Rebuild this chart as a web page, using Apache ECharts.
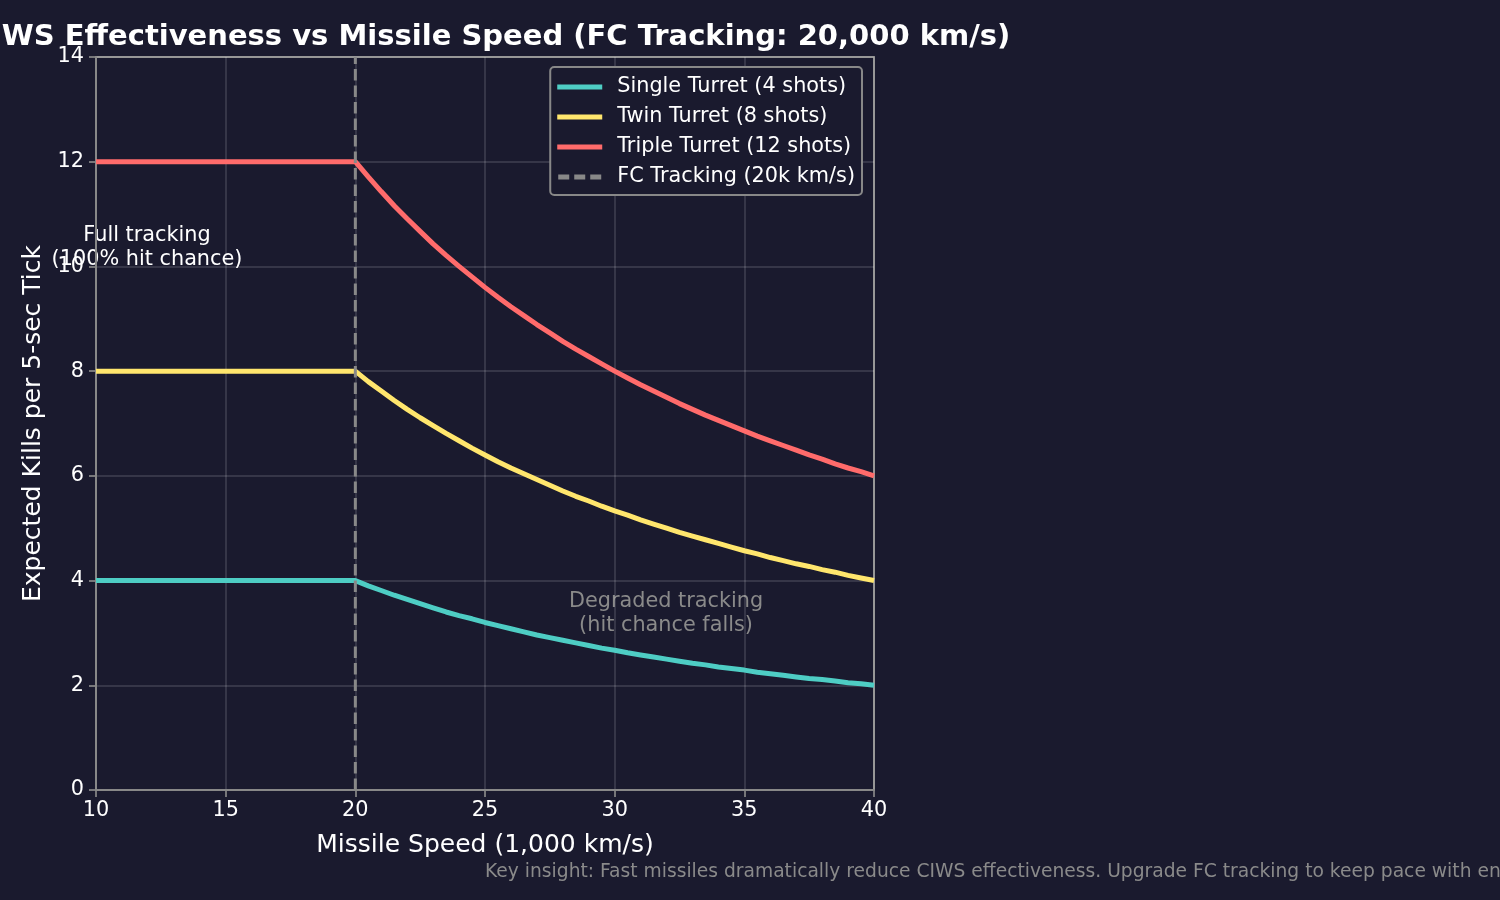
<!DOCTYPE html>
<html>
<head>
<meta charset="utf-8">
<script src="https://cdn.jsdelivr.net/npm/echarts@6/dist/echarts.min.js"></script>
<style>
  html, body { margin: 0; padding: 0; background: #1a1a2e; }
  #main { width: 1500px; height: 900px; }
</style>
</head>
<body>
<div id="main"></div>
<script>
// missile speed, 1,000 km/s
var speeds = [10, 11, 12, 13, 14, 15, 16, 17, 18, 19, 20,
              20.5, 21, 21.5, 22, 22.5, 23, 23.5, 24, 24.5, 25,
              25.5, 26, 26.5, 27, 27.5, 28, 28.5, 29, 29.5, 30,
              30.5, 31, 31.5, 32, 32.5, 33, 33.5, 34, 34.5, 35,
              35.5, 36, 36.5, 37, 37.5, 38, 38.5, 39, 39.5, 40];
var singleKills = [4, 4, 4, 4, 4, 4, 4, 4, 4, 4, 4,
                   3.90, 3.81, 3.72, 3.64, 3.56, 3.48, 3.40, 3.33, 3.27, 3.2,
                   3.14, 3.08, 3.02, 2.96, 2.91, 2.86, 2.81, 2.76, 2.71, 2.67,
                   2.62, 2.58, 2.54, 2.5, 2.46, 2.42, 2.39, 2.35, 2.32, 2.29,
                   2.25, 2.22, 2.19, 2.16, 2.13, 2.11, 2.08, 2.05, 2.03, 2.0];
var twinKills = [8, 8, 8, 8, 8, 8, 8, 8, 8, 8, 8,
                 7.80, 7.62, 7.44, 7.27, 7.11, 6.96, 6.81, 6.67, 6.53, 6.4,
                 6.27, 6.15, 6.04, 5.93, 5.82, 5.71, 5.61, 5.52, 5.42, 5.33,
                 5.25, 5.16, 5.08, 5.0, 4.92, 4.85, 4.78, 4.71, 4.64, 4.57,
                 4.51, 4.44, 4.38, 4.32, 4.27, 4.21, 4.16, 4.10, 4.05, 4.0];
var tripleKills = [12, 12, 12, 12, 12, 12, 12, 12, 12, 12, 12,
                   11.71, 11.43, 11.16, 10.91, 10.67, 10.43, 10.21, 10.0, 9.80, 9.6,
                   9.41, 9.23, 9.06, 8.89, 8.73, 8.57, 8.42, 8.28, 8.14, 8.0,
                   7.87, 7.74, 7.62, 7.5, 7.38, 7.27, 7.16, 7.06, 6.96, 6.86,
                   6.76, 6.67, 6.58, 6.49, 6.4, 6.32, 6.23, 6.15, 6.08, 6.0];
var fcTracking = [[20, 0], [20, 14]];

function pairs(ys) {
    return speeds.map(function (s, i) { return [s, ys[i]]; });
}

var myChart = echarts.init(document.getElementById('main'));

var font = 'DejaVu Sans';
var gridColor = 'rgba(255,255,255,0.17)';
var dashIcon = 'path://M0,0h11v5h-11z M16,0h11v5h-11z M32,0h11v5h-11z';

option = {
    backgroundColor: '#1a1a2e',
    animation: false,
    textStyle: { fontFamily: font },
    title: {
        text: 'CIWS Effectiveness vs Missile Speed (FC Tracking: 20,000 km/s)',
        left: 485,
        textAlign: 'center',
        top: 18,
        textStyle: { color: '#ffffff', fontSize: 29, fontWeight: 'bold', fontFamily: font }
    },
    grid: { left: 96, right: 626, top: 57, bottom: 110, show: true, borderColor: '#888888', borderWidth: 2 },
    legend: {
        right: 638,
        top: 67,
        orient: 'vertical',
        itemGap: 6,
        itemWidth: 45,
        itemHeight: 5,
        padding: [8, 7, 6, 7],
        backgroundColor: '#1a1a2e',
        borderColor: '#888888',
        borderWidth: 2,
        borderRadius: 4,
        textStyle: { color: '#ffffff', fontSize: 20.8, lineHeight: 24, padding: [0, 0, 0, 10], fontFamily: font },
        data: [
            { name: 'Single Turret (4 shots)', icon: 'rect' },
            { name: 'Twin Turret (8 shots)', icon: 'rect' },
            { name: 'Triple Turret (12 shots)', icon: 'rect' },
            { name: 'FC Tracking (20k km/s)', icon: dashIcon }
        ]
    },
    xAxis: {
        type: 'value',
        min: 10,
        max: 40,
        interval: 5,
        name: 'Missile Speed (1,000 km/s)',
        nameLocation: 'middle',
        nameGap: 43,
        nameTextStyle: { color: '#ffffff', fontSize: 25, fontFamily: font },
        axisLine: { show: true, lineStyle: { color: '#888888', width: 2 } },
        axisTick: { show: true, length: 7, lineStyle: { color: '#888888', width: 1.7 } },
        axisLabel: { color: '#ffffff', fontSize: 20.8, margin: 10, fontFamily: font },
        splitLine: { show: true, lineStyle: { color: gridColor, width: 1.5 } }
    },
    yAxis: {
        type: 'value',
        min: 0,
        max: 14,
        interval: 2,
        name: 'Expected Kills per 5-sec Tick',
        nameLocation: 'middle',
        nameGap: 50,
        nameTextStyle: { color: '#ffffff', fontSize: 25, fontFamily: font },
        axisLine: { show: true, lineStyle: { color: '#888888', width: 2 } },
        axisTick: { show: true, length: 7, lineStyle: { color: '#888888', width: 1.7 } },
        axisLabel: { color: '#ffffff', fontSize: 20.8, margin: 12, fontFamily: font },
        splitLine: { show: true, lineStyle: { color: gridColor, width: 1.5 } }
    },
    series: [
        {
            name: 'Single Turret (4 shots)',
            type: 'line',
            data: pairs(singleKills),
            symbol: 'none',
            color: '#4ecdc4',
            lineStyle: { width: 5, color: '#4ecdc4' }
        },
        {
            name: 'Twin Turret (8 shots)',
            type: 'line',
            data: pairs(twinKills),
            symbol: 'none',
            color: '#ffe66d',
            lineStyle: { width: 5, color: '#ffe66d' }
        },
        {
            name: 'Triple Turret (12 shots)',
            type: 'line',
            data: pairs(tripleKills),
            symbol: 'none',
            color: '#ff6b6b',
            lineStyle: { width: 5, color: '#ff6b6b' }
        },
        {
            name: 'FC Tracking (20k km/s)',
            type: 'line',
            data: fcTracking,
            symbol: 'none',
            color: '#888888',
            lineStyle: { width: 3, color: '#888888', type: [11.5, 5] }
        }
    ],
    graphic: [
        {
            type: 'text',
            x: 147, y: 248,
            style: {
                text: 'Full tracking\n(100% hit chance)',
                fill: '#ffffff', fontSize: 20.8, fontFamily: font,
                align: 'center', verticalAlign: 'middle', lineHeight: 24
            }
        },
        {
            type: 'text',
            x: 666, y: 614,
            style: {
                text: 'Degraded tracking\n(hit chance falls)',
                fill: '#8a8a8a', fontSize: 20.8, fontFamily: font,
                align: 'center', verticalAlign: 'middle', lineHeight: 24
            }
        },
        {
            type: 'text',
            x: 485, y: 872,
            style: {
                text: 'Key insight: Fast missiles dramatically reduce CIWS effectiveness. Upgrade FC tracking to keep pace with enemy missile tech.',
                fill: '#8a8a8a', fontSize: 18.7, fontFamily: font,
                align: 'left', verticalAlign: 'middle'
            }
        }
    ]
};

myChart.setOption(option);
</script>
</body>
</html>
